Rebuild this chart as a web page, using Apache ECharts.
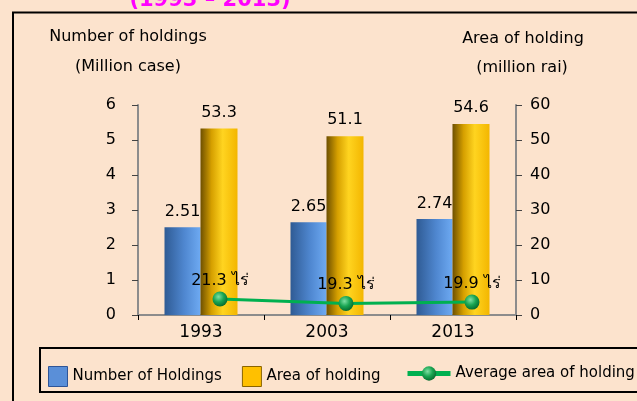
<!DOCTYPE html>
<head>
    <meta charset="utf-8"/>
    <style>
        html,body { height:100%; width:100%; margin:0; padding:0; background:#FCE3CD; }
    </style>
</head>
<body>

<div id="chart" style="width:637px;height:401px"></div>

<script src="https://cdn.jsdelivr.net/npm/echarts@6/dist/echarts.min.js"></script>
<script type="text/javascript">

 // data
 var years = ['1993', '2003', '2013'];
 var holdings = [2.51, 2.65, 2.74];      // million case
 var areas = [53.3, 51.1, 54.6];         // million rai
 var avgArea = [21.3, 19.3, 19.9];       // rai per holding
 var leftTicks = [0, 6, 1];              // min, max, interval
 var rightTicks = [0, 60, 10];

 var FONT = 'Tahoma, "DejaVu Sans", "Noto Sans", sans-serif';

 var myChart = echarts.init(document.getElementById('chart'));

 var blueGrad = new echarts.graphic.LinearGradient(0, 0, 1, 0, [
     {offset: 0, color: '#2f5b94'},
     {offset: 0.55, color: '#4f87d0'},
     {offset: 1, color: '#6eaaf2'}
 ]);
 var yellowGrad = new echarts.graphic.LinearGradient(0, 0, 1, 0, [
     {offset: 0, color: '#6e5000'},
     {offset: 0.3, color: '#d6a000'},
     {offset: 0.6, color: '#ffd420'},
     {offset: 1, color: '#f3b600'}
 ]);
 var ballGrad = new echarts.graphic.RadialGradient(0.4, 0.35, 0.7, [
     {offset: 0, color: '#7fe0a4'},
     {offset: 0.5, color: '#19a552'},
     {offset: 1, color: '#05652c'}
 ]);

 var axisGray = {lineStyle: {color: '#8c8c8c', width: 2}};

 var option = {
     backgroundColor: '#FCE3CD',
     textStyle: {fontFamily: FONT},
     graphic: [
         // outer frame
         {type: 'rect', shape: {x: 13, y: 12.5, width: 640, height: 400},
          style: {fill: 'none', stroke: '#000', lineWidth: 2}, z: 100},
         // legend box
         {type: 'rect', shape: {x: 40, y: 348, width: 610, height: 44},
          style: {fill: 'none', stroke: '#000', lineWidth: 2}, z: 100},
         // clipped title
         {type: 'text', x: 210, y: 1,
          style: {text: '(1993 – 2013)', fill: '#ff00ff', font: 'bold 21px ' + FONT,
                  textAlign: 'center', textVerticalAlign: 'middle'}},
         {type: 'text', x: 128, y: 37,
          style: {text: 'Number of holdings', fill: '#000', font: '16px ' + FONT,
                  textAlign: 'center', textVerticalAlign: 'middle'}},
         {type: 'text', x: 128, y: 67,
          style: {text: '(Million case)', fill: '#000', font: '16px ' + FONT,
                  textAlign: 'center', textVerticalAlign: 'middle'}},
         {type: 'text', x: 523, y: 39,
          style: {text: 'Area of holding', fill: '#000', font: '16px ' + FONT,
                  textAlign: 'center', textVerticalAlign: 'middle'}},
         {type: 'text', x: 522, y: 68,
          style: {text: '(million rai)', fill: '#000', font: '16px ' + FONT,
                  textAlign: 'center', textVerticalAlign: 'middle'}}
     ],
     legend: [
         {
             left: 43, top: 361, itemWidth: 19, itemHeight: 20, itemGap: 20,
             textStyle: {fontSize: 15, color: '#000', fontFamily: FONT},
             data: [
                 {name: 'Number of Holdings', icon: 'rect',
                  itemStyle: {color: '#5a8fd8', borderColor: '#2f5597', borderWidth: 1}},
                 {name: 'Area of holding', icon: 'rect',
                  itemStyle: {color: '#ffc000', borderColor: '#8a6400', borderWidth: 1}}
             ]
         },
         {
             left: 400, top: 361, itemWidth: 43, itemHeight: 18,
             textStyle: {fontSize: 15, color: '#000', fontFamily: FONT},
             lineStyle: {width: 5},
             data: ['Average area of holding']
         }
     ],
     grid: [
         {left: 138, width: 378, top: 105, bottom: 86},
         {left: 157, width: 378, top: 105, bottom: 86}
     ],
     xAxis: [
         {
             type: 'category', data: years, gridIndex: 0,
             axisLine: axisGray,
             axisTick: {show: true, length: 5, lineStyle: {color: '#000'}},
             axisLabel: {fontSize: 17, color: '#000', margin: 9}
         },
         {type: 'category', data: years, gridIndex: 1, show: false}
     ],
     yAxis: [
         {
             type: 'value', gridIndex: 0, position: 'left',
             min: leftTicks[0], max: leftTicks[1], interval: leftTicks[2],
             axisLine: {show: true, lineStyle: {color: '#8c8c8c', width: 2}},
             axisTick: {show: true, length: 6, lineStyle: {color: '#444'}},
             axisLabel: {fontSize: 16, color: '#000', margin: 22},
             splitLine: {show: false}
         },
         {
             type: 'value', gridIndex: 0, position: 'right',
             min: rightTicks[0], max: rightTicks[1], interval: rightTicks[2],
             axisLine: {show: true, lineStyle: {color: '#8c8c8c', width: 2}},
             axisTick: {show: true, length: 6, lineStyle: {color: '#444'}},
             axisLabel: {fontSize: 16, color: '#000', margin: 14},
             splitLine: {show: false}
         },
         {type: 'value', gridIndex: 1, min: 14, max: 110, show: false}
     ],
     series: [
         {
             name: 'Number of Holdings', type: 'bar', xAxisIndex: 0, yAxisIndex: 0,
             data: holdings, barWidth: 36, barGap: '0%',
             itemStyle: {color: blueGrad},
             label: {show: true, position: 'top', distance: 7, fontSize: 16, color: '#000'}
         },
         {
             name: 'Area of holding', type: 'bar', xAxisIndex: 0, yAxisIndex: 1,
             data: areas, barWidth: 37,
             itemStyle: {color: yellowGrad},
             label: {show: true, position: 'top', distance: 8, fontSize: 16, color: '#000'}
         },
         {
             name: 'Average area of holding', type: 'line', xAxisIndex: 1, yAxisIndex: 2,
             data: avgArea, z: 10,
             symbol: 'circle', symbolSize: 15,
             lineStyle: {color: '#00b050', width: 3},
             itemStyle: {color: ballGrad, borderWidth: 0},
             label: {show: true, position: 'top', distance: 3, fontSize: 16, color: '#000',
                     formatter: '{c} ไร่'}
         }
     ]
 };

 myChart.setOption(option);

</script>
</body>
